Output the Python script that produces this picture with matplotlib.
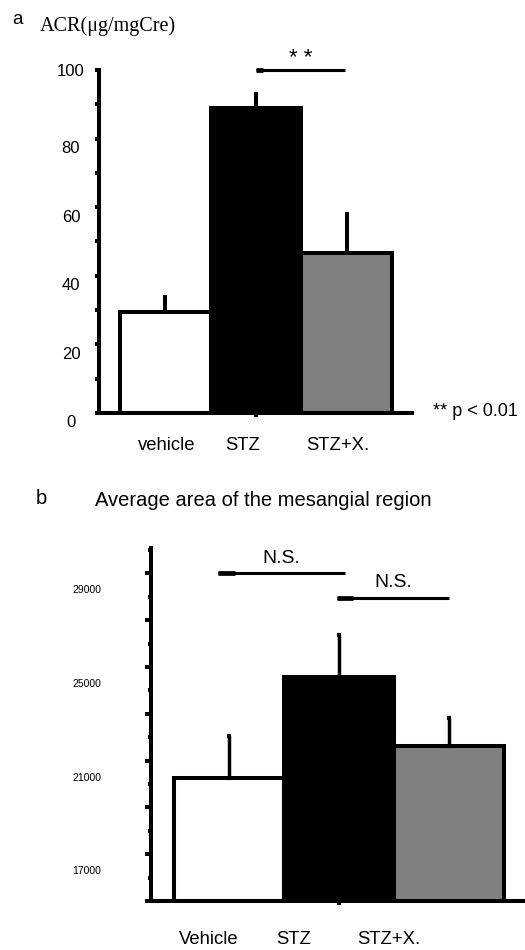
import numpy as np
import matplotlib.pyplot as plt
from matplotlib import transforms

plt.rcParams['font.family'] = ['Liberation Sans', 'DejaVu Sans']

# ---- data: panel a (ACR) ----
groups_a = ['vehicle', 'STZ', 'STZ+X.']
acr_mean = [29.5, 88.8, 46.6]
acr_err = [5.0, 4.8, 12.0]
acr_ticks = [0, 20, 40, 60, 80, 100]
sig_a = (1.0, 1.98, 100)          # x1, x2, y
sig_a_text = '* *'

# ---- data: panel b (mesangial area) ----
groups_b = ['Vehicle', 'STZ', 'STZ+X.']
area_mean = [20250, 24580, 21630]
area_err = [1800, 1800, 1200]
area_ticks = [17000, 21000, 25000, 29000]
sig_b = [(-0.1, 1.05, 29000), (0.98, 2.0, 27950)]
sig_b_text = ['N.S.', 'N.S.']

colors = ['white', 'black', '#808080']
LW = 2.9

fig = plt.figure(figsize=(5.25, 9.5), dpi=100)


def shifted(tr, dy):
    return transforms.offset_copy(tr, fig=fig, x=0, y=dy, units='dots')


# =============================================================================
# panel a
# =============================================================================
ax1 = fig.add_axes([99 / 525, 1 - 413 / 950, 313 / 525, 343 / 950])
x = np.arange(len(groups_a))
ax1.bar(x, acr_mean, width=1.0, color=colors, edgecolor='black', linewidth=LW,
        yerr=[np.zeros(3), acr_err], error_kw=dict(ecolor='black', elinewidth=LW, capsize=0))
ax1.set_xlim(-0.73, 2.72)
ax1.set_ylim(0, 100)
for s in ['top', 'right']:
    ax1.spines[s].set_visible(False)
ax1.spines['left'].set_linewidth(LW)
ax1.spines['bottom'].set_linewidth(LW)
ax1.set_yticks(np.arange(0, 101, 10))
ax1.set_yticklabels([])
ax1.tick_params(axis='y', length=3, width=LW, direction='out')
ax1.set_xticks([1])
ax1.set_xticklabels([])
ax1.tick_params(axis='x', length=3, width=LW, direction='out')

for v in acr_ticks:
    dy = -1 if v == acr_ticks[-1] else -10
    ax1.text(-0.0895, v, str(v), ha='center', va='center', fontsize=12,
             transform=shifted(ax1.get_yaxis_transform(), dy))

lab_dx_a = [0.02, -0.15, -0.1]
for i, g in enumerate(groups_a):
    ax1.text(x[i] + lab_dx_a[i], 0, g, ha='center', va='center', fontsize=13.3,
             transform=shifted(ax1.transData, -33))

ax1.plot([sig_a[0], sig_a[1]], [sig_a[2], sig_a[2]], color='black', lw=2.2, clip_on=False,
         solid_capstyle='butt')
ax1.plot([sig_a[0], sig_a[0] + 0.08], [sig_a[2], sig_a[2]], color='black', lw=3.4, clip_on=False,
         solid_capstyle='butt')
ax1.text((sig_a[0] + sig_a[1]) / 2, sig_a[2], sig_a_text, ha='center', va='center', fontsize=16,
         transform=shifted(ax1.transData, 12))

fig.text(12 / 525, 1 - 20 / 950, 'a', fontsize=13.5, ha='left', va='center')
fig.text(40 / 525, 1 - 26 / 950, 'ACR(μg/mgCre)', fontsize=14.5, ha='left', va='center',
         family=['Liberation Serif', 'DejaVu Serif'])
fig.text(433 / 525, 1 - 412 / 950, '** p < 0.01', fontsize=13, ha='left', va='center')

# =============================================================================
# panel b
# =============================================================================
ax2 = fig.add_axes([151 / 525, 1 - 901 / 950, 374 / 525, 353 / 950])
x = np.arange(len(groups_b))
ax2.bar(x, area_mean, width=1.0, color=colors, edgecolor='black', linewidth=LW,
        yerr=[np.zeros(3), area_err],
        error_kw=dict(ecolor='black', elinewidth=LW - 0.4, capsize=1.5, capthick=3))
ax2.set_xlim(-0.709, 2.69)
ax2.set_ylim(15000, 30085)
for s in ['top', 'right']:
    ax2.spines[s].set_visible(False)
ax2.spines['left'].set_linewidth(LW)
ax2.spines['bottom'].set_linewidth(LW)
ax2.set_yticks(np.arange(15000, 30001, 2000))
ax2.set_yticks(np.arange(16000, 30001, 2000), minor=True)
ax2.set_yticklabels([])
ax2.tick_params(axis='y', which='major', length=4.5, width=LW, direction='out')
ax2.tick_params(axis='y', which='minor', length=2, width=LW, direction='out')
ax2.set_xticks([1])
ax2.set_xticklabels([])
ax2.tick_params(axis='x', length=3, width=LW, direction='out')

for v in area_ticks:
    ax2.text(-0.171, v, str(v), ha='center', va='center', fontsize=7.5,
             transform=shifted(ax2.get_yaxis_transform(), -17))

lab_dx_b = [-0.18, -0.41, -0.55]
for i, g in enumerate(groups_b):
    ax2.text(x[i] + lab_dx_b[i], 15000, g, ha='center', va='center', fontsize=13.3,
             transform=shifted(ax2.transData, -39))

for (x1, x2, yy), t in zip(sig_b, sig_b_text):
    ax2.plot([x1, x2], [yy, yy], color='black', lw=2.2, clip_on=False, solid_capstyle='butt')
    ax2.plot([x1, x1 + 0.15], [yy, yy], color='black', lw=3.4, clip_on=False, solid_capstyle='butt')
    ax2.text((x1 + x2) / 2, yy, t, ha='center', va='center', fontsize=14,
             transform=shifted(ax2.transData, 15))

fig.text(36 / 525, 1 - 498 / 950, 'b', fontsize=14.5, ha='left', va='center')
fig.text(95 / 525, 1 - 500 / 950, 'Average area of the mesangial region', fontsize=14.5,
         ha='left', va='center')

fig.savefig('out.png', dpi=100)
